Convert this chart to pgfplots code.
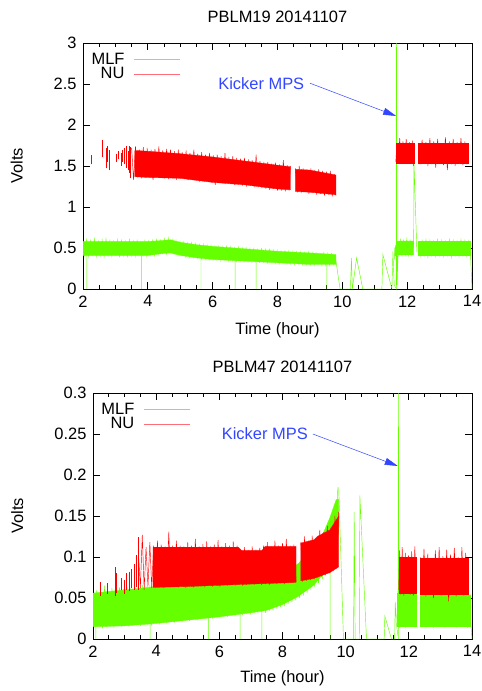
\documentclass[border=0pt]{standalone}
\usepackage{fontspec}
\setmainfont{Liberation Sans}
\usepackage{pgfplots}
\pgfplotsset{compat=1.18}
\usetikzlibrary{arrows.meta}

\definecolor{mlf}{RGB}{102,255,0}
\definecolor{nu}{RGB}{255,0,0}
\definecolor{mlfkey}{RGB}{130,240,70}
\definecolor{nukey}{RGB}{255,110,120}
\definecolor{kick}{RGB}{50,70,255}

\pgfplotsset{
  pblm/.style={
    scale only axis, height=246bp,
    xmin=2, xmax=14, ymin=0,
    xtick={2,4,...,14}, minor x tick num=3,
    tick align=inside,
    major tick length=7bp, minor tick length=4bp,
    tick style={black, line width=0.7bp},
    axis line style={line width=0.8bp},
    font=\fontsize{16.5}{18}\selectfont,
    /pgf/number format/assume math mode=true,
    scaled y ticks=false,
    yticklabel style={/pgf/number format/fixed, xshift=-3bp},
    xticklabel style={yshift=-3bp},
    xlabel={Time (hour)},
    ylabel={Volts},
    title style={at={(0.5,1)}, anchor=center, yshift=20bp},
    legend plot pos=right,
    legend cell align=right,
    legend image code/.code={\draw[#1, line width=0.8bp] (0bp,0bp) -- (46bp,0bp);},
    legend style={draw=none, fill=none, at={(0.01,0.975)}, anchor=north west,
      row sep=-1bp, nodes={inner sep=1.5bp},
      /tikz/every odd column/.append style={column sep=8bp}},
    legend entries={MLF,NU},
  },
  band/.style={forget plot, line width=0.3bp, draw=#1, fill=#1},
  thin/.style={forget plot, line width=0.45bp, draw=#1, unbounded coords=jump},
}

\begin{document}
\begin{tikzpicture}

% ---------------- PBLM19 ----------------
\begin{axis}[pblm, at={(83bp,-289bp)}, anchor=south west, width=389bp,
  ymax=3, ytick={0,0.5,...,3},
  title={PBLM19 20141107},
  xlabel style={at={(0.5,-0.167)}, anchor=center},
  ylabel style={at={(-0.17,0.5)}, anchor=center},
]
\addlegendimage{mlfkey}
\addlegendimage{nukey}

% MLF: core of the band and its noise
\addplot[band=mlf] coordinates {
(2,.58)(4,.58)(4.4,.59)(4.7,.60)(5,.57)(5.5,.54)(6,.52)(7,.49)(8,.46)(9,.44)(9.8,.42)
(9.8,.30)(9,.30)(8,.32)(7,.34)(6,.36)(5.5,.38)(5,.41)(4.7,.44)(4.4,.43)(4,.41)(3,.41)(2,.41)
} -- cycle;
\addplot[thin=mlf] coordinates {
(2.00,.58)(2.05,.41)(2.11,.60)(2.17,.40)(2.23,.59)(2.29,.42)(2.35,.61)(2.41,.40)(2.47,.58)(2.53,.41)
(2.59,.60)(2.65,.39)(2.71,.61)(2.77,.41)(2.83,.59)(2.89,.40)(2.95,.58)(3.01,.42)(3.07,.60)(3.13,.40)
(3.19,.59)(3.25,.41)(3.31,.58)(3.37,.40)(3.43,.60)(3.49,.41)(3.55,.58)(3.61,.40)(3.67,.59)(3.73,.42)
(3.79,.57)(3.85,.41)(3.91,.59)(3.97,.40)(4.03,.58)(4.09,.42)(4.15,.59)(4.21,.41)(4.27,.60)(4.33,.43)
(4.39,.59)(4.45,.44)(4.51,.61)(4.57,.43)(4.63,.62)(4.69,.45)(4.75,.60)(4.81,.43)(4.87,.59)(4.93,.42)
(4.99,.58)(5.05,.41)(5.11,.57)(5.17,.40)(5.23,.56)(5.29,.39)(5.35,.56)(5.41,.39)(5.47,.55)(5.53,.38)
(5.59,.54)(5.65,.37)(5.71,.54)(5.77,.37)(5.83,.53)(5.89,.36)(5.95,.53)(6.01,.36)(6.07,.52)(6.13,.36)
(6.19,.52)(6.25,.35)(6.31,.51)(6.37,.36)(6.43,.52)(6.49,.35)(6.55,.51)(6.61,.35)(6.67,.50)(6.73,.34)
(6.79,.51)(6.85,.35)(6.91,.50)(6.97,.34)(7.03,.50)(7.09,.34)(7.15,.49)(7.21,.33)(7.27,.49)(7.33,.34)
(7.39,.48)(7.45,.33)(7.51,.49)(7.57,.33)(7.63,.48)(7.69,.32)(7.75,.48)(7.81,.33)(7.87,.47)(7.93,.32)
(7.99,.47)(8.05,.31)(8.11,.46)(8.17,.32)(8.23,.46)(8.29,.31)(8.35,.46)(8.41,.31)(8.47,.45)(8.53,.30)
(8.59,.45)(8.65,.31)(8.71,.45)(8.77,.30)(8.83,.44)(8.89,.30)(8.95,.45)(9.01,.30)(9.07,.44)(9.13,.29)
(9.19,.44)(9.25,.30)(9.31,.43)(9.37,.29)(9.43,.44)(9.49,.29)(9.55,.43)(9.61,.29)(9.67,.43)(9.73,.30)
(9.79,.42)
};
\addplot[band=mlf] coordinates {(11.62,.50)(11.7,.585)(12.2,.585)(12.2,.415)(11.7,.415)(11.62,.40)} -- cycle;
\addplot[thin=mlf] coordinates {
(11.60,.36)(11.63,.50)(11.66,.38)(11.70,.58)(11.74,.42)(11.79,.60)(11.84,.41)(11.89,.59)(11.94,.42)
(11.99,.61)(12.04,.41)(12.09,.59)(12.14,.42)(12.20,.58)
};
\addplot[band=mlf] coordinates {(12.34,.585)(13.95,.585)(13.95,.415)(12.34,.415)} -- cycle;
\addplot[thin=mlf] coordinates {
(12.34,.58)(12.40,.40)(12.46,.59)(12.52,.41)(12.58,.60)(12.64,.39)(12.70,.59)(12.76,.41)(12.82,.58)
(12.88,.40)(12.94,.60)(13.00,.41)(13.06,.59)(13.12,.40)(13.18,.58)(13.24,.41)(13.30,.60)(13.36,.39)
(13.42,.59)(13.48,.41)(13.54,.58)(13.60,.40)(13.66,.60)(13.72,.41)(13.78,.59)(13.84,.40)(13.90,.58)
(13.95,.40)
};
% MLF single readings
\addplot[thin=mlf] coordinates {
(2.12,.45)(2.12,0)(2.12,nan)
(3.8,.45)(3.8,0)(3.8,nan)
(5.64,.40)(5.64,0)(5.64,nan)
(6.69,.38)(6.69,0)(6.69,nan)
(7.34,.37)(7.34,0)(7.34,nan)
(9.52,.33)(9.52,0)(9.52,nan)
(9.8,.35)(9.93,0)(10.25,0)(10.28,.38)(10.31,0)(10.44,.38)(10.63,0)(11.22,0)(11.25,.42)
(11.53,0)(11.56,.46)(11.6,.05)(11.67,0)(11.67,3.2)(11.69,.05)(11.72,.45)(11.72,nan)
(12.2,.5)(12.21,1.55)(12.3,.45)(12.3,nan)
(13.95,.45)(14,0)
};

% NU sparse readings
\addplot[thin=nu] coordinates {
(2.24,1.52)(2.24,1.63)(2.24,nan)(2.58,1.61)(2.58,1.82)(2.58,nan)
(2.72,1.47)(2.72,1.72)(2.72,nan)(2.76,1.55)(2.76,1.75)(2.76,nan)
(2.82,1.45)(2.82,1.70)(2.82,nan)(3.02,1.55)(3.02,1.65)(3.02,nan)
(3.08,1.58)(3.08,1.68)(3.08,nan)(3.17,1.50)(3.17,1.66)(3.17,nan)
(3.22,1.55)(3.22,1.70)(3.22,nan)(3.27,1.52)(3.27,1.72)(3.27,nan)
(3.33,1.48)(3.33,1.74)(3.33,nan)(3.38,1.45)(3.38,1.68)(3.38,nan)
(3.43,1.42)(3.43,1.75)(3.43,nan)(3.47,1.35)(3.47,1.73)
};
% NU band 3.5 - 8.4
\addplot[band=nu] coordinates {
(3.6,1.69)(4,1.68)(5,1.65)(6,1.61)(7,1.56)(8,1.51)(8.4,1.49)
(8.4,1.21)(8,1.22)(7,1.27)(6,1.30)(5,1.35)(4,1.36)(3.6,1.37)
} -- cycle;
\addplot[thin=nu] coordinates {
(3.50,1.72)(3.56,1.33)(3.62,1.74)(3.68,1.36)(3.74,1.70)(3.80,1.35)(3.86,1.73)(3.92,1.36)(3.98,1.72)
(4.04,1.37)(4.10,1.70)(4.16,1.33)(4.22,1.71)(4.28,1.36)(4.34,1.74)(4.40,1.36)(4.46,1.69)(4.52,1.35)
(4.58,1.71)(4.64,1.34)(4.70,1.70)(4.76,1.36)(4.82,1.68)(4.88,1.33)(4.94,1.70)(5.00,1.35)(5.06,1.67)
(5.12,1.34)(5.18,1.69)(5.24,1.33)(5.30,1.66)(5.36,1.35)(5.42,1.70)(5.48,1.33)(5.54,1.65)(5.60,1.31)
(5.66,1.67)(5.72,1.33)(5.78,1.64)(5.84,1.32)(5.90,1.66)(5.96,1.30)(6.02,1.63)(6.08,1.27)(6.14,1.64)
(6.20,1.30)(6.26,1.62)(6.32,1.29)(6.38,1.66)(6.44,1.29)(6.50,1.61)(6.56,1.28)(6.62,1.62)(6.68,1.27)
(6.74,1.60)(6.80,1.28)(6.86,1.59)(6.92,1.26)(6.98,1.60)(7.04,1.25)(7.10,1.58)(7.16,1.26)(7.22,1.57)
(7.28,1.24)(7.34,1.64)(7.40,1.24)(7.46,1.56)(7.52,1.23)(7.58,1.55)(7.64,1.22)(7.70,1.55)(7.76,1.21)
(7.82,1.53)(7.88,1.22)(7.94,1.54)(8.00,1.20)(8.06,1.52)(8.12,1.20)(8.18,1.57)(8.24,1.19)(8.30,1.51)
(8.36,1.20)(8.40,1.50)
};
% NU band 8.55 - 9.8
\addplot[band=nu] coordinates {(8.55,1.46)(9,1.45)(9.8,1.39)(9.8,1.15)(9,1.18)(8.55,1.19)} -- cycle;
\addplot[thin=nu] coordinates {
(8.55,1.47)(8.61,1.18)(8.67,1.50)(8.73,1.17)(8.79,1.47)(8.85,1.19)(8.91,1.46)(8.97,1.16)(9.03,1.47)
(9.09,1.17)(9.15,1.45)(9.21,1.15)(9.27,1.46)(9.33,1.16)(9.39,1.44)(9.45,1.14)(9.51,1.43)(9.57,1.15)
(9.63,1.44)(9.69,1.13)(9.75,1.40)(9.80,1.14)
};
% NU band 11.65 - 12.2
\addplot[band=nu] coordinates {(11.65,1.78)(12.2,1.78)(12.2,1.54)(11.65,1.54)} -- cycle;
\addplot[thin=nu] coordinates {
(11.65,1.55)(11.68,1.76)(11.72,1.54)(11.77,1.84)(11.82,1.56)(11.87,1.80)(11.92,1.55)(11.97,1.83)
(12.02,1.57)(12.07,1.79)(12.12,1.54)(12.17,1.81)(12.20,1.50)
};
% NU band 12.34 - 13.87
\addplot[band=nu] coordinates {(12.34,1.78)(13.87,1.78)(13.87,1.54)(12.34,1.54)} -- cycle;
\addplot[thin=nu] coordinates {
(12.34,1.78)(12.40,1.52)(12.46,1.82)(12.52,1.53)(12.58,1.79)(12.64,1.50)(12.70,1.84)(12.76,1.52)
(12.82,1.80)(12.88,1.48)(12.94,1.83)(13.00,1.53)(13.06,1.78)(13.12,1.51)(13.18,1.85)(13.24,1.45)
(13.30,1.80)(13.36,1.52)(13.42,1.83)(13.48,1.50)(13.54,1.79)(13.60,1.53)(13.66,1.84)(13.72,1.51)
(13.78,1.80)(13.84,1.52)(13.87,1.78)
};

\node[text=kick] at (axis cs:7.5,2.51) {Kicker MPS};
\draw[kick, line width=0.5bp, -{Triangle[length=13bp,width=7bp]}] (axis cs:9.0,2.51) -- (axis cs:11.66,2.11);
\end{axis}

% ---------------- PBLM47 ----------------
\begin{axis}[pblm, at={(93bp,-639bp)}, anchor=south west, width=379bp,
  ymax=0.3, ytick={0,0.05,...,0.3},
  title={PBLM47 20141107},
  xlabel style={at={(0.5,-0.159)}, anchor=center},
  ylabel style={at={(-0.2,0.5)}, anchor=center},
]
\addlegendimage{mlfkey}
\addlegendimage{nukey}

% MLF band 2 - 9.78
\addplot[band=mlf] coordinates {
(2,.056)(3,.060)(4,.064)(5,.067)(6,.070)(7,.073)(7.5,.075)(8,.079)(8.5,.092)(9,.114)(9.3,.130)
(9.5,.148)(9.7,.170)(9.78,.170)
(9.78,.130)(9.7,.115)(9.5,.090)(9.3,.080)(9,.066)(8.5,.052)(8,.042)(7.5,.035)(7,.032)(6,.027)
(5,.023)(4,.019)(3,.016)(2,.015)
} -- cycle;
\addplot[thin=mlf] coordinates {
(2.00,.055)(2.06,.014)(2.12,.060)(2.18,.016)(2.24,.058)(2.30,.013)(2.36,.065)(2.42,.015)(2.48,.059)
(2.54,.016)(2.60,.062)(2.66,.014)(2.72,.060)(2.78,.016)(2.84,.063)(2.90,.015)(2.96,.061)(3.02,.017)
(3.08,.064)(3.14,.015)(3.20,.062)(3.26,.016)(3.32,.065)(3.38,.017)(3.44,.063)(3.50,.016)(3.56,.066)
(3.62,.018)(3.68,.064)(3.74,.017)(3.80,.066)(3.86,.016)(3.92,.065)(3.98,.019)(4.04,.066)(4.10,.018)
(4.16,.067)(4.22,.020)(4.28,.066)(4.34,.019)(4.40,.068)(4.46,.021)(4.52,.067)(4.58,.020)(4.64,.068)
(4.70,.022)(4.76,.068)(4.82,.021)(4.88,.069)(4.94,.023)(5.00,.068)(5.06,.022)(5.12,.069)(5.18,.024)
(5.24,.070)(5.30,.023)(5.36,.069)(5.42,.025)(5.48,.070)(5.54,.024)(5.60,.071)(5.66,.026)(5.72,.070)
(5.78,.025)(5.84,.071)(5.90,.027)(5.96,.072)(6.02,.026)(6.08,.071)(6.14,.028)(6.20,.072)(6.26,.027)
(6.32,.073)(6.38,.029)(6.44,.072)(6.50,.028)(6.56,.073)(6.62,.030)(6.68,.074)(6.74,.029)(6.80,.073)
(6.86,.031)(6.92,.074)(6.98,.030)(7.04,.075)(7.10,.032)(7.16,.074)(7.22,.031)(7.28,.075)(7.34,.033)
(7.40,.076)(7.46,.032)(7.52,.077)(7.58,.034)(7.64,.076)(7.70,.035)(7.76,.078)(7.82,.037)(7.88,.079)
(7.94,.039)(8.00,.081)(8.06,.040)(8.12,.083)(8.18,.043)(8.24,.085)(8.30,.045)(8.36,.088)(8.42,.047)
(8.48,.092)(8.54,.050)(8.60,.096)(8.66,.053)(8.72,.101)(8.78,.056)(8.84,.106)(8.90,.060)(8.96,.112)
(9.02,.064)(9.08,.118)(9.14,.068)(9.20,.125)(9.26,.073)(9.32,.132)(9.38,.079)(9.44,.140)(9.50,.086)
(9.56,.150)(9.62,.095)(9.68,.165)(9.72,.110)(9.75,.185)(9.78,.130)
};
\addplot[band=mlf] coordinates {(11.64,.056)(12.23,.056)(12.23,.016)(11.64,.016)} -- cycle;
\addplot[thin=mlf] coordinates {
(11.62,.025)(11.66,.062)(11.70,.014)(11.75,.058)(11.80,.016)(11.85,.060)(11.90,.014)(11.95,.057)
(12.00,.015)(12.05,.059)(12.10,.016)(12.15,.058)(12.20,.014)(12.23,.055)
};
\addplot[band=mlf] coordinates {(12.36,.054)(13.94,.054)(13.94,.016)(12.36,.016)} -- cycle;
\addplot[thin=mlf] coordinates {
(12.36,.055)(12.42,.015)(12.48,.058)(12.54,.014)(12.60,.056)(12.66,.016)(12.72,.057)(12.78,.014)
(12.84,.058)(12.90,.015)(12.96,.055)(13.02,.016)(13.08,.057)(13.14,.014)(13.20,.058)(13.26,.015)
(13.32,.056)(13.38,.016)(13.44,.057)(13.50,.014)(13.56,.058)(13.62,.015)(13.68,.056)(13.74,.016)
(13.80,.057)(13.86,.014)(13.94,.055)
};
% MLF single readings
\addplot[thin=mlf] coordinates {
(2.09,.03)(2.09,0)(2.09,nan)
(3.81,.03)(3.81,0)(3.81,nan)
(5.66,.03)(5.66,0)(5.66,nan)
(6.66,.03)(6.66,0)(6.66,nan)
(7.35,.04)(7.35,0)(7.35,nan)
(9.51,.11)(9.51,0)(9.51,nan)
(9.78,.185)(9.93,0)(10.25,0)(10.27,.155)(10.30,0)(10.43,0)(10.45,.175)(10.66,0)(11.22,0)(11.24,.028)
(11.45,0)(11.55,0)(11.57,.045)(11.6,.02)(11.67,0)(11.67,.31)(11.69,.02)(11.72,.03)(11.72,nan)
(13.94,.03)(14,0)
};

% NU sparse readings
\addplot[thin=nu] coordinates {
(2.22,.052)(2.22,.070)(2.22,nan)(2.45,.055)(2.45,.068)(2.45,nan)
(2.70,.052)(2.70,.088)(2.70,nan)(2.75,.056)(2.75,.080)(2.75,nan)
(2.88,.060)(2.88,.075)(2.88,nan)(3.00,.055)(3.00,.072)(3.00,nan)
(3.06,.060)(3.06,.080)(3.06,nan)(3.15,.058)(3.15,.082)(3.15,nan)
(3.22,.062)(3.22,.085)(3.22,nan)(3.30,.060)(3.30,.092)(3.30,nan)
(3.37,.064)(3.37,.102)(3.37,nan)(3.42,.060)(3.42,.125)
};
% NU band 3.9 - 8.43
\addplot[band=nu] coordinates {
(3.9,.112)(6.6,.112)(6.7,.108)(7.35,.108)(7.45,.113)(8.43,.113)
(8.43,.069)(7,.067)(5,.064)(4,.063)(3.9,.063)
} -- cycle;
\addplot[thin=nu] coordinates {
(3.45,.098)(3.50,.062)(3.56,.127)(3.62,.060)(3.68,.112)(3.74,.064)(3.80,.118)(3.86,.062)(3.92,.114)
(3.98,.063)(4.04,.120)(4.10,.064)(4.16,.115)(4.22,.062)(4.28,.113)(4.34,.065)(4.40,.131)(4.46,.063)
(4.52,.114)(4.58,.064)(4.64,.120)(4.70,.063)(4.76,.114)(4.82,.065)(4.88,.113)(4.94,.062)(5.00,.118)
(5.06,.064)(5.12,.114)(5.18,.063)(5.24,.122)(5.30,.065)(5.36,.113)(5.42,.064)(5.48,.116)(5.54,.063)
(5.60,.119)(5.66,.065)(5.72,.113)(5.78,.064)(5.84,.115)(5.90,.066)(5.96,.121)(6.02,.064)(6.08,.113)
(6.14,.066)(6.20,.117)(6.26,.065)(6.32,.114)(6.38,.066)(6.44,.119)(6.50,.065)(6.56,.114)(6.62,.067)
(6.68,.109)(6.74,.065)(6.80,.112)(6.86,.066)(6.92,.108)(6.98,.067)(7.04,.113)(7.10,.066)(7.16,.109)
(7.22,.067)(7.28,.111)(7.34,.066)(7.40,.114)(7.46,.067)(7.52,.118)(7.58,.066)(7.64,.113)(7.70,.068)
(7.76,.120)(7.82,.067)(7.88,.114)(7.94,.068)(8.00,.117)(8.06,.067)(8.12,.122)(8.18,.068)(8.24,.114)
(8.30,.069)(8.36,.115)(8.43,.070)
};
% NU band 8.58 - 9.78
\addplot[band=nu] coordinates {
(8.58,.117)(9.0,.121)(9.1,.125)(9.5,.133)(9.78,.150)(9.78,.088)(9.5,.081)(9.0,.074)(8.58,.071)
} -- cycle;
\addplot[thin=nu] coordinates {
(8.58,.118)(8.64,.070)(8.70,.125)(8.76,.071)(8.82,.120)(8.88,.072)(8.94,.126)(9.00,.073)(9.06,.122)
(9.12,.075)(9.18,.133)(9.24,.076)(9.30,.130)(9.36,.078)(9.42,.138)(9.48,.080)(9.54,.136)(9.60,.083)
(9.66,.150)(9.72,.086)(9.78,.155)
};
% NU band 11.68 - 12.23
\addplot[band=nu] coordinates {(11.68,.100)(12.23,.100)(12.23,.056)(11.68,.056)} -- cycle;
\addplot[thin=nu] coordinates {
(11.68,.060)(11.71,.108)(11.75,.054)(11.79,.112)(11.84,.053)(11.89,.105)(11.94,.055)(11.99,.102)
(12.04,.054)(12.09,.107)(12.14,.053)(12.19,.113)(12.23,.055)
};
% NU band 12.36 - 13.89
\addplot[band=nu] coordinates {(12.36,.098)(13.89,.098)(13.89,.055)(12.36,.055)} -- cycle;
\addplot[thin=nu] coordinates {
(12.36,.100)(12.42,.054)(12.48,.110)(12.54,.052)(12.60,.104)(12.66,.055)(12.72,.098)(12.78,.050)
(12.84,.108)(12.90,.054)(12.96,.112)(13.02,.053)(13.08,.101)(13.14,.055)(13.20,.109)(13.26,.046)
(13.32,.103)(13.38,.054)(13.44,.111)(13.50,.052)(13.56,.100)(13.62,.055)(13.68,.112)(13.74,.053)
(13.80,.105)(13.86,.054)(13.89,.098)
};

\node[text=kick] at (axis cs:7.44,0.251) {Kicker MPS};
\draw[kick, line width=0.5bp, -{Triangle[length=13bp,width=7bp]}] (axis cs:8.96,0.25) -- (axis cs:11.65,0.211);
\end{axis}

\pgfresetboundingbox
\path[use as bounding box] (0,0) rectangle (482bp,-691bp);
\end{tikzpicture}
\end{document}
